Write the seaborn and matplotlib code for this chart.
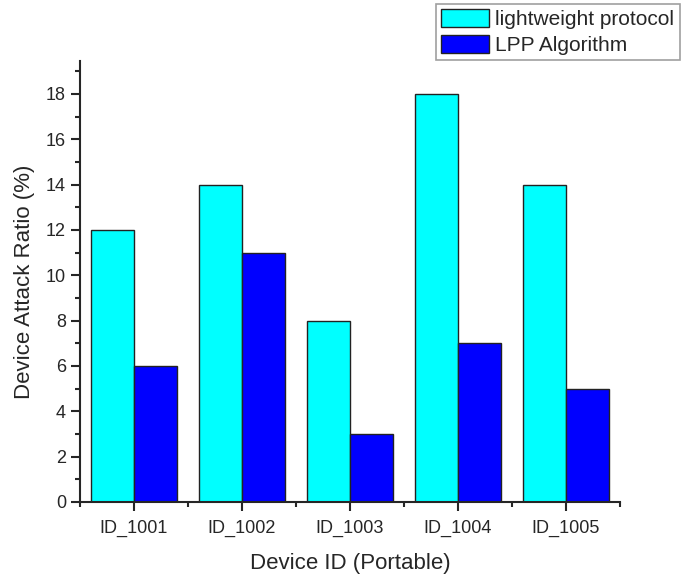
import pandas as pd
import matplotlib
matplotlib.use("Agg")
import matplotlib.pyplot as plt
import seaborn as sns
from matplotlib.ticker import MultipleLocator, FixedLocator
from matplotlib.patches import Patch

devices = ["ID_1001", "ID_1002", "ID_1003", "ID_1004", "ID_1005"]
lightweight = [12, 14, 8, 18, 14]
lpp = [6, 11, 3, 7, 5]
series_names = ["lightweight protocol", "LPP Algorithm"]
colors = ["#00FFFF", "#0000FF"]

df = pd.DataFrame({
    "Device": devices * 2,
    "Ratio": lightweight + lpp,
    "Method": [series_names[0]] * len(devices) + [series_names[1]] * len(devices),
})

sns.set_style("ticks")
plt.rcParams["font.family"] = ["Liberation Sans", "DejaVu Sans"]

fig = plt.figure(figsize=(6.91, 5.76), dpi=100)
ax = fig.add_axes([80 / 691, 74 / 576, 540 / 691, 441 / 576])

sns.barplot(data=df, x="Device", y="Ratio", hue="Method", ax=ax,
            palette=colors, width=0.8,
            edgecolor="#222222", linewidth=1.0, saturation=1, legend=False)

ax.set_xlim(-0.5, 4.5)
ax.set_ylim(0, 19.45)
ax.yaxis.set_major_locator(MultipleLocator(2))
ax.yaxis.set_minor_locator(MultipleLocator(1))
ax.xaxis.set_minor_locator(FixedLocator([-0.5, 0.5, 1.5, 2.5, 3.5, 4.5]))

sns.despine(ax=ax)
for s in ["left", "bottom"]:
    ax.spines[s].set_linewidth(1.5)
ax.tick_params(axis="both", which="major", direction="out", length=6.5, width=1.5, labelsize=13)
ax.tick_params(axis="both", which="minor", direction="out", length=3.5, width=1.5)
ax.tick_params(axis="x", which="major", pad=6)

ax.set_xlabel("Device ID (Portable)", fontsize=16, labelpad=12)
ax.set_ylabel("Device Attack Ratio (%)", fontsize=16, labelpad=8)

handles = [Patch(facecolor=c, edgecolor="#222222") for c in colors]
leg = fig.legend(handles, series_names, loc="upper left",
                 bbox_to_anchor=(436 / 691, 1 - 4 / 576), fontsize=15,
                 frameon=True, fancybox=False, edgecolor="#888888",
                 handlelength=2.3, handleheight=0.95, handletextpad=0.3,
                 borderpad=0.25, labelspacing=0.25, borderaxespad=0)
leg.get_frame().set_linewidth(1.2)

fig.savefig("out.png", dpi=100)
